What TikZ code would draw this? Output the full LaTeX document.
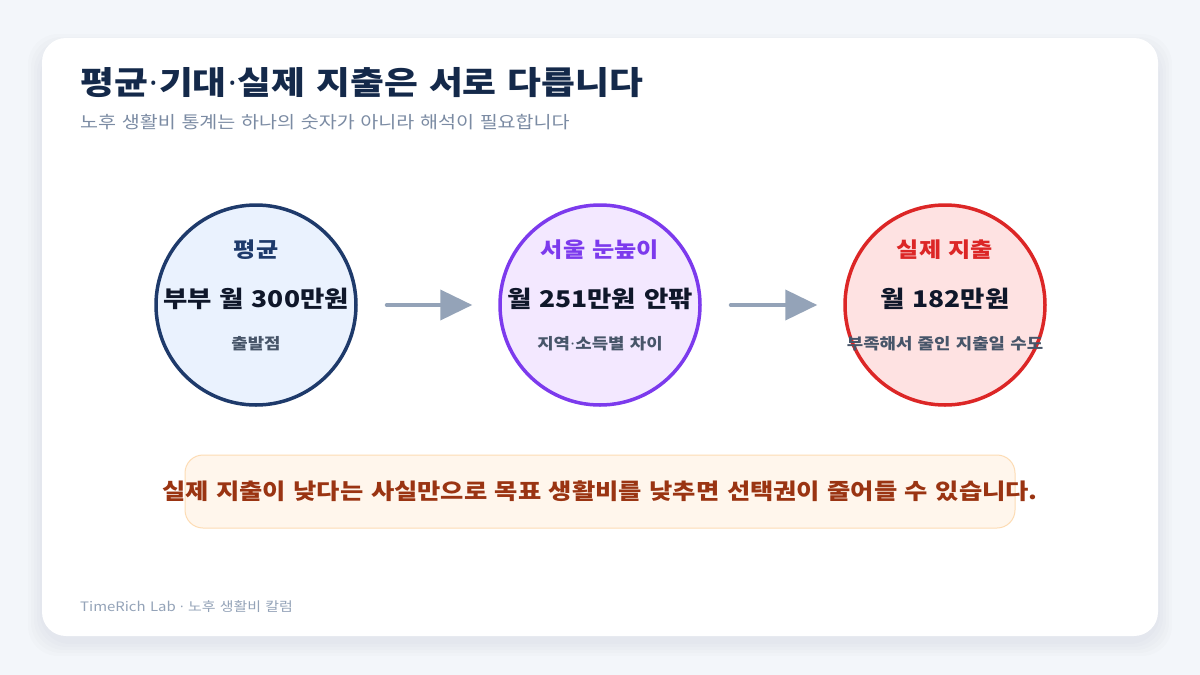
\documentclass[tikz,border=0pt]{standalone}
\usepackage{fontspec}
\setmainfont{Noto Sans CJK KR}[FakeStretch=1.15, WordSpace=1.3]
\newfontfamily\dotfont{Noto Sans}
\newcommand{\middot}{\kern0.04em{\dotfont ·}\kern0.04em}
\usetikzlibrary{arrows.meta}
\definecolor{pagebg}{HTML}{F3F6FA}
\definecolor{navy}{HTML}{14294A}
\definecolor{slate}{HTML}{475569}
\definecolor{mist}{HTML}{7B8BA3}
\definecolor{ink}{HTML}{0F172A}
\definecolor{flowgray}{HTML}{94A3B8}
\definecolor{avgline}{HTML}{1E3A6B}
\definecolor{avgfill}{HTML}{EAF2FE}
\definecolor{seoulline}{HTML}{7C3AED}
\definecolor{seoulfill}{HTML}{F3E8FF}
\definecolor{realline}{HTML}{DC2626}
\definecolor{realfill}{HTML}{FEE2E2}
\definecolor{notefill}{HTML}{FFF6EC}
\definecolor{noteline}{HTML}{FDDCB4}
\definecolor{notetext}{HTML}{9A3412}
\tikzset{
            stage/.style={circle, draw, line width=3.5pt, minimum size=200pt, inner sep=0pt},
            tag/.style={anchor=base, font=\bfseries\fontsize{21}{24}\selectfont},
            amount/.style={anchor=base, text=ink, font=\bfseries\fontsize{23}{28}\selectfont},
            remark/.style={anchor=base, text=slate, font=\bfseries\fontsize{15.5}{18}\selectfont},
            flow/.style={draw=flowgray, line width=4pt, line cap=round,
                -{Triangle[length=32pt,width=30pt]}, shorten <=29pt, shorten >=26pt}
        }

\begin{document}
\begin{tikzpicture}[
                    x=1pt, y=-1pt,
                    every node/.style={inner sep=0pt}
                    ]
                \useasboundingbox (0,0) rectangle (1200,675);
                \fill[pagebg] (0,0) rectangle (1200,675);
                \foreach \s in {2,5,8,11,14}
                    \fill[navy, opacity=0.012, rounded corners=30pt]
                        (42-\s,38-\s+10) rectangle (1158+\s,636+\s+6);
                \fill[white, rounded corners=24pt] (42,38) rectangle (1158,636);

                \node[anchor=base west, text=navy, font=\bfseries\fontsize{32}{38}\selectfont]
                    (title) at (80,94) {평균\middot 기대\middot 실제 지출은 서로 다릅니다};
                \node[anchor=base west, text=mist, font=\fontsize{17}{20}\selectfont]
                    (subtitle) at (80,128) {노후 생활비 통계는 하나의 숫자가 아니라 해석이 필요합니다};

                \node[stage, draw=avgline, fill=avgfill] (avg) at (256,305) {};
                \node[stage, draw=seoulline, fill=seoulfill] (seoul) at (600,305) {};
                \node[stage, draw=realline, fill=realfill] (real) at (945,305) {};

                \node[tag, text=avgline] (avgtag) at ([yshift=48pt]avg.center) {평균};
                \node[amount] (avgval) at ([yshift=-2pt]avg.center) {부부 월 300만원};
                \node[remark] (avgnote) at ([yshift=-44pt]avg.center) {출발점};

                \node[tag, text=seoulline] (seoultag) at ([yshift=48pt]seoul.center) {서울 눈높이};
                \node[amount] (seoulval) at ([yshift=-2pt]seoul.center) {월 251만원 안팎};
                \node[remark] (seoulnote) at ([yshift=-44pt]seoul.center) {지역\middot 소득별 차이};

                \node[tag, text=realline] (realtag) at ([yshift=48pt]real.center) {실제 지출};
                \node[amount] (realval) at ([yshift=-2pt]real.center) {월 182만원};
                \node[remark] (realnote) at ([yshift=-44pt]real.center) {부족해서 줄인 지출일 수도};

                \draw[flow] (avg) -- (seoul);
                \draw[flow] (seoul) -- (real);

                \node[draw=noteline, fill=notefill, line width=1pt, rounded corners=18pt,
                    minimum width=830pt, minimum height=73pt] (notebox) at (600,491.5) {};
                \node[text=notetext, font=\bfseries\fontsize{22}{26}\selectfont]
                    (notemsg) at (notebox.center) {실제 지출이 낮다는 사실만으로 목표 생활비를 낮추면 선택권이 줄어들 수 있습니다.};

                \node[anchor=base west, text=flowgray, font=\fontsize{13}{16}\selectfont]
                    (footer) at (80,611) {TimeRich Lab {\dotfont ·} 노후 생활비 칼럼};
            \end{tikzpicture}
\end{document}
